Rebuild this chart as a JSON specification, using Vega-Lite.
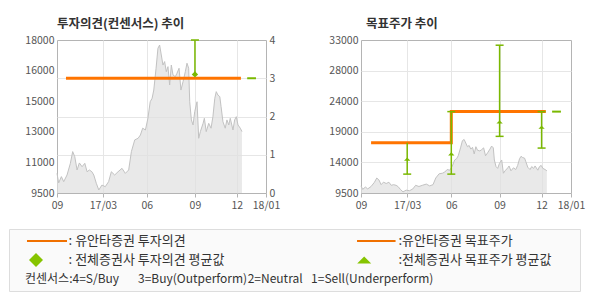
{
  "$schema": "https://vega.github.io/schema/vega-lite/v6.json",
  "background": "white",
  "padding": {"left": 8, "top": 17, "right": 0, "bottom": 0},
  "config": {
    "font": "Noto Sans CJK KR",
    "view": {"stroke": "#b4b4b4"},
    "axis": {"labelFont": "Noto Sans CJK KR", "labelFontSize": 10.5, "labelColor": "#555555", "domain": false, "ticks": false, "gridColor": "#e6e6e6", "labelPadding": 3, "labelOverlap": false, "labelBound": false, "labelFlush": false},
    "axisX": {"ticks": true, "tickSize": 4, "tickColor": "#b4b4b4"},
    "title": {"font": "Noto Sans CJK KR", "fontSize": 12.5, "fontWeight": "bold", "color": "#333333", "anchor": "start", "offset": 5, "frame": "group"}
  },
  "datasets": {
    "price": [
      {"t":0,"p":10590},{"t":0.8,"p":10060},{"t":2.1,"p":10410},{"t":3.2,"p":10130},{"t":4.8,"p":10500},{"t":6.4,"p":11150},{"t":7.5,"p":11800},{"t":8.5,"p":11520},{"t":9.6,"p":10780},{"t":10.7,"p":11170},{"t":12.0,"p":10960},{"t":13.3,"p":11150},{"t":14.4,"p":10680},{"t":15.5,"p":10780},{"t":16.7,"p":10680},{"t":17.6,"p":10500},{"t":18.8,"p":10040},{"t":20.0,"p":9670},{"t":21.5,"p":9940},{"t":23.1,"p":9850},{"t":24.7,"p":10130},{"t":26.0,"p":10680},{"t":27.6,"p":10500},{"t":29.2,"p":10680},{"t":31.1,"p":10870},{"t":32.7,"p":10590},{"t":34.3,"p":10780},{"t":35.6,"p":11800},{"t":37.2,"p":12450},{"t":38.8,"p":12540},{"t":39.9,"p":12720},{"t":41.0,"p":13100},{"t":42.3,"p":13000},{"t":43.5,"p":13650},{"t":44.6,"p":14570},{"t":45.5,"p":14760},{"t":46.3,"p":15220},{"t":47.4,"p":16430},{"t":48.3,"p":17540},{"t":49.1,"p":17720},{"t":49.9,"p":17170},{"t":50.7,"p":16610},{"t":51.5,"p":16800},{"t":52.3,"p":16240},{"t":53.1,"p":16520},{"t":53.9,"p":15500},{"t":54.7,"p":16610},{"t":55.5,"p":16060},{"t":56.6,"p":15960},{"t":57.4,"p":16150},{"t":58.4,"p":16430},{"t":59.3,"p":15220},{"t":60.3,"p":15680},{"t":61.4,"p":16240},{"t":62.2,"p":16710},{"t":63.0,"p":16430},{"t":63.5,"p":14570},{"t":64.3,"p":13560},{"t":65.1,"p":13280},{"t":65.9,"p":14020},{"t":67.0,"p":14570},{"t":67.8,"p":12540},{"t":68.6,"p":12910},{"t":69.9,"p":13370},{"t":70.5,"p":13650},{"t":71.4,"p":12910},{"t":72.6,"p":13370},{"t":73.7,"p":13100},{"t":74.6,"p":13740},{"t":75.5,"p":14760},{"t":76.2,"p":15130},{"t":77.0,"p":14940},{"t":77.9,"p":14850},{"t":78.5,"p":14300},{"t":79.4,"p":13460},{"t":80.5,"p":13100},{"t":81.3,"p":13560},{"t":82.2,"p":13280},{"t":82.9,"p":13650},{"t":84.2,"p":13000},{"t":85.0,"p":13560},{"t":85.8,"p":13740},{"t":86.6,"p":13280},{"t":87.7,"p":13100},{"t":88.5,"p":12910}
    ],
    "opinion": [
      {"kind":"own","t":4.3,"t2":88,"v":3},
      {"kind":"range","t":66,"v":3.1,"v2":4},
      {"kind":"cap","t":66,"v":4},
      {"kind":"mean","t":66,"v":3.1},
      {"kind":"now","t":91,"t2":95.2,"v":3}
    ],
    "target": [
      {"kind":"own","t":4.8,"p":17200},
      {"kind":"own","t":43,"p":22000},
      {"kind":"own","t":88,"p":22000},
      {"kind":"range","t":22,"p":12400,"p2":17200},
      {"kind":"range","t":43,"p":12400,"p2":22000},
      {"kind":"range","t":66,"p":18200,"p2":32200},
      {"kind":"range","t":86,"p":16400,"p2":22000},
      {"kind":"cap","t":22,"p":12400},
      {"kind":"cap","t":43,"p":12400},
      {"kind":"cap","t":43,"p":22000},
      {"kind":"cap","t":66,"p":18200},
      {"kind":"cap","t":66,"p":32200},
      {"kind":"cap","t":86,"p":16400},
      {"kind":"cap","t":86,"p":22000},
      {"kind":"mean","t":22,"p":14700},
      {"kind":"mean","t":43,"p":15500},
      {"kind":"mean","t":66,"p":20400},
      {"kind":"mean","t":86,"p":19600},
      {"kind":"now","t":91,"t2":95.2,"p":22000}
    ],
    "legend": [
      {"kind":"line","c":3.15,"c2":10.16,"r":0},
      {"kind":"text","c":10.44,"r":0,"label":": 유안타증권 투자의견"},
      {"kind":"diamond","c":4.73,"r":1},
      {"kind":"text","c":10.44,"r":1,"label":": 전체증권사 투자의견 평균값"},
      {"kind":"line","c":60.95,"c2":67.7,"r":0},
      {"kind":"text","c":68.2,"r":0,"label":":유안타증권 목표주가"},
      {"kind":"triangle","c":62.2,"r":1},
      {"kind":"text","c":68.2,"r":1,"label":":전체증권사 목표주가 평균값"},
      {"kind":"note","c":2.8,"r":2,"label":"컨센서스:4=S/Buy"},
      {"kind":"note","c":22.6,"r":2,"label":"3=Buy(Outperform)"},
      {"kind":"note","c":41.8,"r":2,"label":"2=Neutral"},
      {"kind":"note","c":52.9,"r":2,"label":"1=Sell(Underperform)"}
    ]
  },
  "spacing": 17,
  "vconcat": [
    {
      "spacing": 14,
      "hconcat": [
        {"width": 1, "height": 1, "view": {"stroke": null}, "data": {"values": []}, "mark": "point"},
        {
          "spacing": 47,
          "hconcat": [
            {
              "width": 209, "height": 153,
              "view": {"stroke": "#b4b4b4"},
              "title": {"text": "투자의견(컨센서스) 추이"},
              "layer": [
                {
                  "data": {"name": "price"},
                  "mark": {"type": "area", "color": "#e0e0e0", "line": {"color": "#c2c2c2", "strokeWidth": 1}},
                  "encoding": {
                    "x": {"field": "t", "type": "quantitative", "scale": {"domain": [0, 100], "nice": false, "zero": false},
                      "axis": {"title": null, "values": [0, 22, 43, 66, 86, 100], "grid": true, "labelOverlap": false, "labelFlush": false,
                        "gridOpacity": {"condition": {"test": "datum.value==0||datum.value==100", "value": 0}, "value": 1},
                        "labelExpr": "datum.value==0?'09':datum.value==22?'17/03':datum.value==43?'06':datum.value==66?'09':datum.value==86?'12':'18/01'"}},
                    "y": {"field": "p", "type": "quantitative", "scale": {"domain": [9500, 18000], "nice": false, "zero": false},
                      "axis": {"title": null, "orient": "left", "grid": false, "labelOverlap": false, "labelFlush": false, "values": [9500, 11200, 12900, 14600, 16300, 18000],
                        "labelExpr": "datum.value==9500?'9500':format(round(datum.value/1000)*1000,'d')"}},
                    "y2": {"datum": 9500}
                  }
                },
                {
                  "data": {"name": "opinion"},
                  "encoding": {
                    "x": {"field": "t", "type": "quantitative"},
                    "y": {"field": "v", "type": "quantitative", "scale": {"domain": [0, 4], "nice": false, "zero": false},
                      "axis": {"title": null, "orient": "right", "grid": true, "labelOverlap": false, "labelFlush": false, "values": [0, 1, 2, 3, 4],
                        "gridOpacity": {"condition": {"test": "datum.value==0||datum.value==4", "value": 0}, "value": 1}}}
                  },
                  "layer": [
                    {"transform": [{"filter": "datum.kind=='own'"}], "mark": {"type": "rule", "color": "#ff7400", "strokeWidth": 3}, "encoding": {"x2": {"field": "t2"}}},
                    {"transform": [{"filter": "datum.kind=='range'"}], "mark": {"type": "rule", "color": "#7ab800", "strokeWidth": 1.5}, "encoding": {"y2": {"field": "v2"}}},
                    {"transform": [{"filter": "datum.kind=='cap'"}], "mark": {"type": "tick", "orient": "horizontal", "color": "#7ab800", "size": 8, "thickness": 1.5, "opacity": 1}},
                    {"transform": [{"filter": "datum.kind=='mean'"}], "mark": {"type": "point", "shape": "diamond", "filled": true, "size": 40, "color": "#7ab800", "opacity": 1}},
                    {"transform": [{"filter": "datum.kind=='now'"}], "mark": {"type": "rule", "color": "#7ab800", "strokeWidth": 2}, "encoding": {"x2": {"field": "t2"}}}
                  ]
                }
              ],
              "resolve": {"scale": {"y": "independent"}}
            },
            {
              "width": 210, "height": 153,
              "view": {"stroke": "#b4b4b4"},
              "title": {"text": "목표주가 추이", "dx": 5},
              "encoding": {
                "x": {"field": "t", "type": "quantitative", "scale": {"domain": [0, 100], "nice": false, "zero": false},
                  "axis": {"title": null, "values": [0, 22, 43, 66, 86, 100], "grid": true, "labelOverlap": false, "labelFlush": false,
                    "gridOpacity": {"condition": {"test": "datum.value==0||datum.value==100", "value": 0}, "value": 1},
                    "labelExpr": "datum.value==0?'09':datum.value==22?'17/03':datum.value==43?'06':datum.value==66?'09':datum.value==86?'12':'18/01'"}},
                "y": {"field": "p", "type": "quantitative", "scale": {"domain": [9500, 33000], "nice": false, "zero": false},
                  "axis": {"title": null, "orient": "left", "grid": true, "labelOverlap": false, "labelFlush": false, "values": [9500, 14200, 18900, 23600, 28300, 33000],
                    "gridOpacity": {"condition": {"test": "datum.value==9500||datum.value==33000", "value": 0}, "value": 1},
                    "labelExpr": "datum.value==9500?'9500':format(round(datum.value/1000)*1000,'d')"}}
              },
              "layer": [
                {
                  "data": {"name": "price"},
                  "mark": {"type": "area", "color": "#e0e0e0", "line": {"color": "#c2c2c2", "strokeWidth": 1}},
                  "encoding": {"y2": {"datum": 9500}}
                },
                {
                  "data": {"name": "target"},
                  "layer": [
                    {"transform": [{"filter": "datum.kind=='own'"}], "mark": {"type": "line", "color": "#ff7400", "strokeWidth": 3, "interpolate": "step-after"}},
                    {"transform": [{"filter": "datum.kind=='range'"}], "mark": {"type": "rule", "color": "#7ab800", "strokeWidth": 1.5}, "encoding": {"y2": {"field": "p2"}}},
                    {"transform": [{"filter": "datum.kind=='cap'"}], "mark": {"type": "tick", "orient": "horizontal", "color": "#7ab800", "size": 8, "thickness": 1.5, "opacity": 1}},
                    {"transform": [{"filter": "datum.kind=='mean'"}], "mark": {"type": "point", "shape": "M-1,0.5L0,-0.5L1,0.5Z", "filled": true, "size": 40, "color": "#7ab800", "opacity": 1}},
                    {"transform": [{"filter": "datum.kind=='now'"}], "mark": {"type": "rule", "color": "#7ab800", "strokeWidth": 2}, "encoding": {"x2": {"field": "t2"}}}
                  ]
                }
              ]
            }
          ]
        }
      ]
    },
    {
      "width": 571, "height": 62,
      "view": {"fill": "#fafafa", "stroke": "#dddddd"},
      "data": {"name": "legend"},
      "encoding": {
        "x": {"field": "c", "type": "quantitative", "scale": {"domain": [0, 100], "nice": false, "zero": false}, "axis": null},
        "y": {"field": "r", "type": "quantitative", "scale": {"domain": [-0.632, 2.632], "nice": false, "zero": false, "reverse": true}, "axis": null}
      },
      "layer": [
        {"transform": [{"filter": "datum.kind=='line'"}], "mark": {"type": "rule", "color": "#f07000", "strokeWidth": 2}, "encoding": {"x2": {"field": "c2"}}},
        {"transform": [{"filter": "datum.kind=='diamond'"}], "mark": {"type": "point", "shape": "diamond", "filled": true, "size": 196, "color": "#86c400", "opacity": 1}},
        {"transform": [{"filter": "datum.kind=='triangle'"}], "mark": {"type": "point", "shape": "M-1,0.5L0,-0.5L1,0.5Z", "filled": true, "size": 196, "color": "#86c400", "opacity": 1}},
        {"transform": [{"filter": "datum.kind=='text'"}], "mark": {"type": "text", "align": "left", "baseline": "middle", "fontSize": 13, "font": "Noto Sans CJK KR", "color": "#333333"}, "encoding": {"text": {"field": "label"}}},
        {"transform": [{"filter": "datum.kind=='note'"}], "mark": {"type": "text", "align": "left", "baseline": "middle", "fontSize": 12, "font": "Noto Sans CJK KR", "color": "#333333"}, "encoding": {"text": {"field": "label"}}}
      ]
    }
  ]
}
